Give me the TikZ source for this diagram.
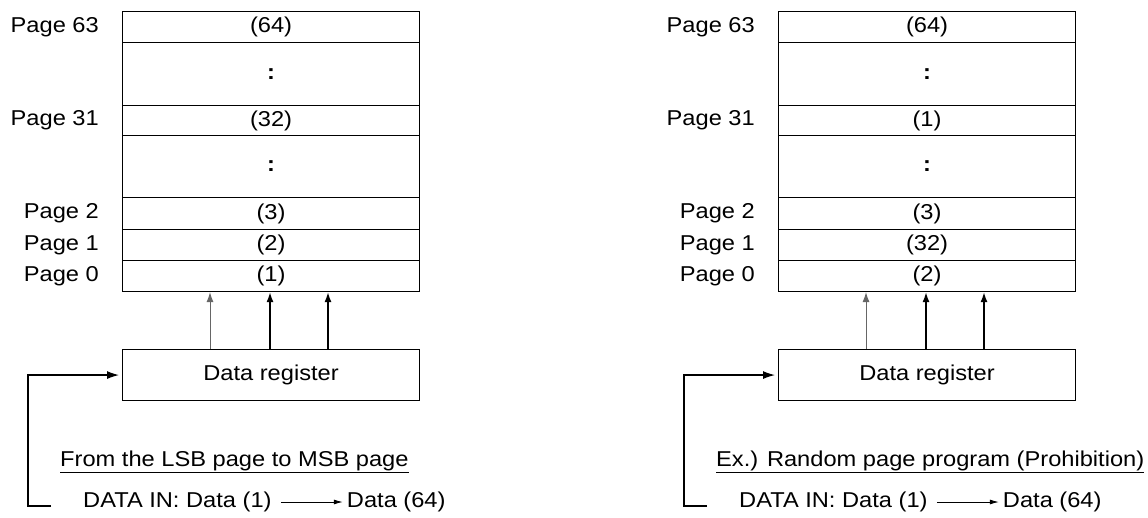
\documentclass[tikz,border=0pt]{standalone}
\usepackage{fontspec}
\setmainfont{Liberation Sans}[FakeStretch=1.1]
\usetikzlibrary{arrows.meta}
\newcommand\dfs{\fontsize{21.5}{24}\selectfont}
\newcommand\mypanel[8]{%
\begin{scope}[xshift=#2pt]
\node[cell,minimum height=31pt] (#1a) at (122,11) {#3};
\node[cell,minimum height=63pt] (#1b) at (122,42) {\textbf{:}};
\node[cell,minimum height=30pt] (#1c) at (122,105) {#4};
\node[cell,minimum height=62pt] (#1d) at (122,135) {\textbf{:}};
\node[cell,minimum height=32pt] (#1e) at (122,197) {#5};
\node[cell,minimum height=31pt] (#1f) at (122,229) {#6};
\node[cell,minimum height=31pt] (#1g) at (122,260) {#7};
\node[lbl] (#1pa) at ([xshift=-23pt]#1a.west) {Page 63};
\node[lbl] (#1pc) at ([xshift=-23pt]#1c.west) {Page 31};
\node[lbl] (#1pe) at ([xshift=-23pt]#1e.west) {Page 2};
\node[lbl] (#1pf) at ([xshift=-23pt]#1f.west) {Page 1};
\node[lbl] (#1pg) at ([xshift=-23pt]#1g.west) {Page 0};
\node[cell,minimum height=51pt] (#1reg) at (122,349) {Data register};
\draw[thinarr] ([xshift=88pt]#1reg.north west) -- ([xshift=88pt]#1g.south west);
\draw[thickarr] ([xshift=148pt]#1reg.north west) -- ([xshift=148pt]#1g.south west);
\draw[thickarr] ([xshift=206pt]#1reg.north west) -- ([xshift=206pt]#1g.south west);
\coordinate (#1fb) at (51,506);
\draw[fbarr] (#1fb) -- ++(-23,0) |- ([xshift=-3pt]#1reg.west);
\node[txt] (#1title) at (60,462) {\underline{#8}};
\node[txt] (#1din) at (83,502) {DATA IN: Data (1)};
\node[txt] (#1dout) at ([xshift=75pt]#1din.east) {Data (64)};
\draw[smallarr] ([xshift=9pt]#1din.east) -- ([xshift=-4pt]#1dout.west);
\end{scope}}
\begin{document}
\begin{tikzpicture}[x=1pt,y=-1pt,
  cell/.style={draw,line width=1.1pt,minimum width=297pt,inner sep=0pt,anchor=north west,font=\dfs},
  lbl/.style={anchor=east,inner sep=0pt,font=\dfs},
  txt/.style={anchor=west,inner sep=0pt,font=\dfs},
  thinarr/.style={draw=black!60,fill=black!60,line width=1pt,-{Latex[length=10pt,width=7pt]}},
  thickarr/.style={line width=1.6pt,-{Latex[length=10pt,width=7pt]}},
  fbarr/.style={line width=1.2pt,-{Latex[length=12pt,width=8pt]}},
  smallarr/.style={line width=0.8pt,-{Latex[length=9pt,width=5pt]}}]
\useasboundingbox (0,0) rectangle (1148,517);
\mypanel{L}{0}{(64)}{(32)}{(3)}{(2)}{(1)}{From the LSB page to MSB page}
\mypanel{R}{656}{(64)}{(1)}{(3)}{(32)}{(2)}{Ex.) Random page program (Prohibition)}
\end{tikzpicture}
\end{document}
